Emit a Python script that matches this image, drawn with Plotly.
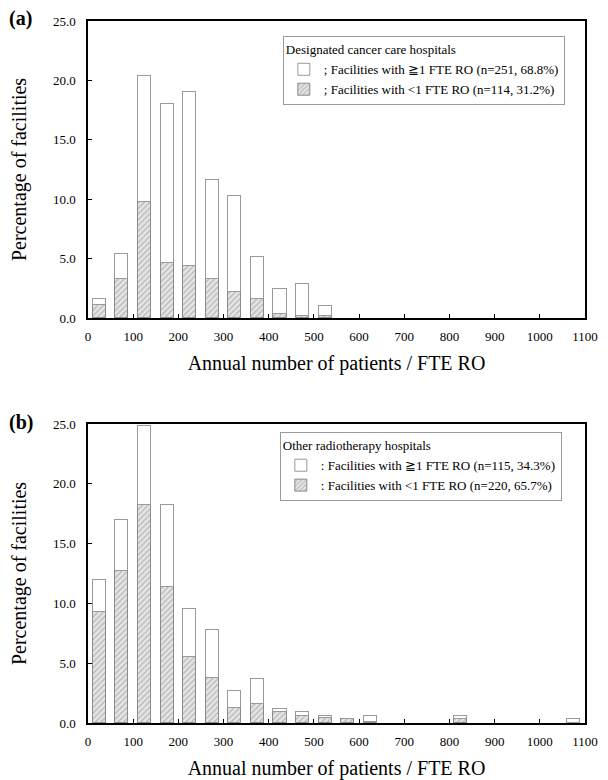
import plotly.graph_objects as go

# ---------------- data ----------------
bins_a = [25, 75, 125, 175, 225, 275, 325, 375, 425, 475, 525]
a_lt1 = [1.1, 3.3, 9.8, 4.6, 4.4, 3.3, 2.2, 1.6, 0.3, 0.2, 0.2]
a_ge1 = [0.5, 2.1, 10.6, 13.4, 14.6, 8.3, 8.1, 3.5, 2.1, 2.7, 0.8]

bins_b = [25, 75, 125, 175, 225, 275, 325, 375, 425, 475, 525, 575, 625, 825, 1075]
b_lt1 = [9.3, 12.7, 18.2, 11.4, 5.5, 3.8, 1.3, 1.6, 0.9, 0.6, 0.4, 0.3, 0.1, 0.3, 0.0]
b_ge1 = [2.7, 4.3, 6.6, 6.8, 4.0, 4.0, 1.4, 2.1, 0.3, 0.3, 0.2, 0.0, 0.5, 0.3, 0.3]

title_a = "Designated cancer care hospitals"
name_a_ge1 = "; Facilities with ≧1 FTE RO (n=251, 68.8%)"
name_a_lt1 = "; Facilities with <1 FTE RO (n=114, 31.2%)"
title_b = "Other radiotherapy hospitals"
name_b_ge1 = ": Facilities with ≧1 FTE RO (n=115, 34.3%)"
name_b_lt1 = ": Facilities with <1 FTE RO (n=220, 65.7%)"

x_ticks = list(range(0, 1101, 100))
y_ticks = [0, 5, 10, 15, 20, 25]

SERIF = "Liberation Serif, Times New Roman, serif"
BAR_W = 29

fig = go.Figure()

def add_panel(bins, lt1, ge1, nlt, nge, xa, ya, leg):
    fig.add_trace(go.Bar(
        x=bins, y=lt1, width=BAR_W, name=nlt, xaxis=xa, yaxis=ya, legend=leg,
        marker=dict(color="white", line=dict(color="#8a8a8a", width=1),
                    pattern=dict(shape="/", fgcolor="#8a8a8a", bgcolor="#e6e6e6",
                                 size=4, solidity=0.35)),
    ))
    fig.add_trace(go.Bar(
        x=bins, y=ge1, width=BAR_W, name=nge, xaxis=xa, yaxis=ya, legend=leg,
        marker=dict(color="white", line=dict(color="#9a9a9a", width=1)),
    ))

add_panel(bins_a, a_lt1, a_ge1, name_a_lt1, name_a_ge1, "x", "y", "legend")
add_panel(bins_b, b_lt1, b_ge1, name_b_lt1, name_b_ge1, "x2", "y2", "legend2")

axis_common = dict(showline=True, linecolor="black", linewidth=1.5, mirror=True,
                   ticks="inside", ticklen=4, tickcolor="black", showgrid=False,
                   zeroline=False, automargin=False,
                   tickfont=dict(family=SERIF, size=13, color="black"))

xcommon = dict(axis_common, range=[0, 1100], tickvals=x_ticks,
               ticktext=[str(v) for v in x_ticks], ticklabelstandoff=6,
               title=dict(text="Annual number of patients / FTE RO",
                          font=dict(family=SERIF, size=20, color="black"), standoff=13))
ycommon = dict(axis_common, range=[0, 25], tickvals=y_ticks,
               ticktext=["%.1f" % v for v in y_ticks], ticklabelstandoff=8,
               title=dict(text="Percentage of facilities",
                          font=dict(family=SERIF, size=20, color="black"), standoff=22))

legend_common = dict(bgcolor="white", bordercolor="#9a9a9a", borderwidth=1,
                     font=dict(family=SERIF, size=13, color="black"),
                     traceorder="reversed", xanchor="left", yanchor="top",
                     tracegroupgap=0, itemwidth=30)

# the page places the figure 8px from the top-left corner of the window
fig.update_layout(
    width=600, height=772,
    margin=dict(l=80, r=23, t=13, b=57, autoexpand=False),
    paper_bgcolor="white", plot_bgcolor="white",
    barmode="stack", bargap=0,
    xaxis=dict(xcommon, domain=[0, 1], anchor="y"),
    yaxis=dict(ycommon, domain=[0.577, 1], anchor="x"),
    xaxis2=dict(xcommon, domain=[0, 1], anchor="y2"),
    yaxis2=dict(ycommon, domain=[0, 0.426], anchor="x2"),
    legend=dict(legend_common, x=0.392, y=0.978,
                title=dict(text=title_a, font=dict(family=SERIF, size=13, color="black"))),
    legend2=dict(legend_common, x=0.386, y=0.414,
                 title=dict(text=title_b, font=dict(family=SERIF, size=13, color="black"))),
    showlegend=True,
    annotations=[
        dict(text="<b>(a)</b>", xref="paper", yref="paper", x=-0.135, y=1.004,
             xanchor="center", yanchor="middle", showarrow=False,
             font=dict(family=SERIF, size=20, color="black")),
        dict(text="<b>(b)</b>", xref="paper", yref="paper", x=-0.135, y=0.428,
             xanchor="center", yanchor="middle", showarrow=False,
             font=dict(family=SERIF, size=20, color="black")),
    ],
)

fig.write_html("out.html")
